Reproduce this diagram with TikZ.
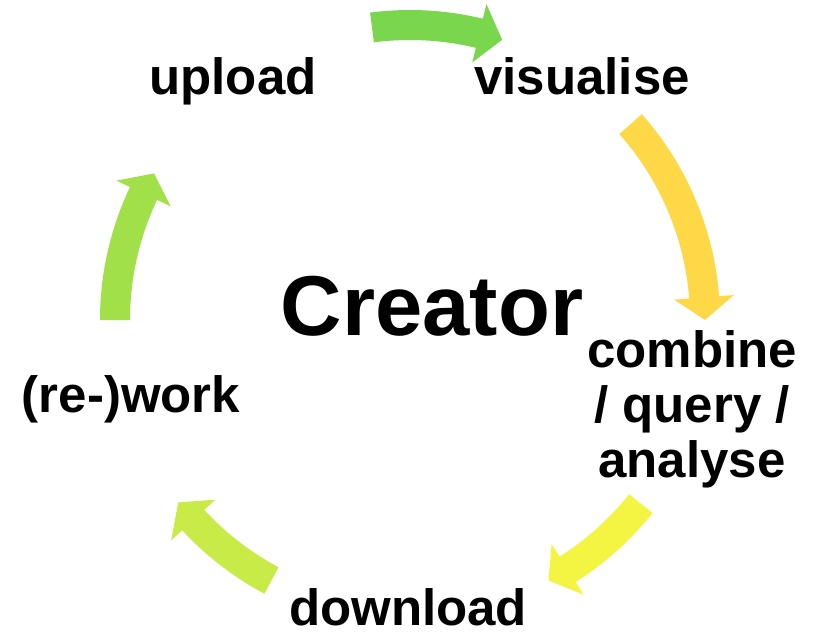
\documentclass[tikz,border=0pt]{standalone}
\usepackage{fontspec}
\setmainfont{Liberation Sans}
\definecolor{greenA}{HTML}{7AD64C}
\definecolor{yellowA}{HTML}{FFD848}
\definecolor{yellowB}{HTML}{F4F442}
\definecolor{limeA}{HTML}{C8EB47}
\definecolor{greenB}{HTML}{A1E048}

\begin{document}
\begin{tikzpicture}[x=1pt,y=1pt,
	steplabel/.style={font=\fontsize{51}{55}\selectfont\bfseries, inner sep=0pt, anchor=base, align=center}]
			\useasboundingbox (0,0) rectangle (819,641);
			\coordinate (centre) at (410,321);
			% curved block arrows: tail angle / head base angle / tip angle / colour
			\foreach \tail/\base/\tip/\col in {97.4/76.4/71.8/greenA, 41.6/4.4/0/yellowA, -38.5/-57.7/-62/yellowB, -118/-137.3/-141.8/limeA, 180/154.6/150.2/greenB}
			\fill[\col] ([shift={(centre)}]\tail:310) arc[start angle=\tail, end angle=\base, radius=310]
				-- ([shift={(centre)}]\base:325) -- ([shift={(centre)}]\tip:295) -- ([shift={(centre)}]\base:265)
				-- ([shift={(centre)}]\base:280) arc[start angle=\base, end angle=\tail, radius=280] -- cycle;
			\node[steplabel] (upload) at (233,546) {upload};
			\node[steplabel] (visualise) at (582,546) {visualise};
			\node[steplabel] (combine) at (692,164) {combine\\/ query /\\analyse};
			\node[steplabel] (download) at (408,16) {download};
			\node[steplabel] (rework) at (131,229) {(re-)work};
			\node[steplabel, font=\fontsize{85}{90}\selectfont\bfseries] (creator) at (432,306) {Creator};
			\end{tikzpicture}
\end{document}
